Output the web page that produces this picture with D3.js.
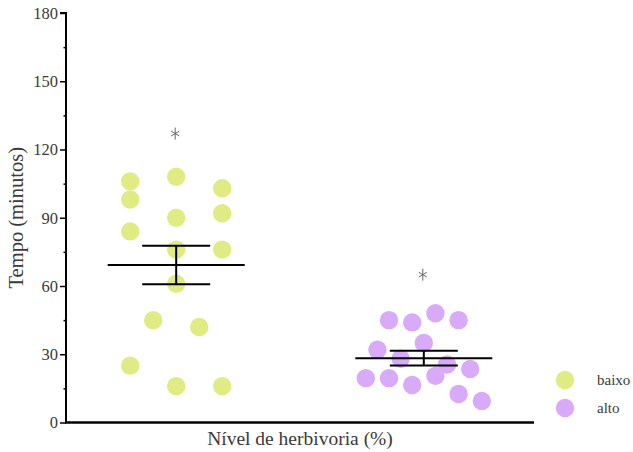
<!DOCTYPE html>
<html>
<head>
<meta charset="utf-8">
<script src="https://cdn.jsdelivr.net/npm/d3@7"></script>
<style>
  html, body { margin: 0; padding: 0; background: #fff; }
  svg { display: block; }
  text { font-family: "Liberation Serif", "DejaVu Serif", serif; }
</style>
</head>
<body>
<svg id="chart" width="633" height="452"></svg>
<script>
// Tempo (minutos) per level of herbivory
const groups = ["baixo", "alto"];
const baixoValues = [106, 108, 103, 98, 90, 92, 84, 76, 76, 61, 45, 42, 25, 16, 16];
const altoValues = [45, 44, 48, 45, 32, 28, 35, 25.5, 23.5, 19.5, 19.5, 16.5, 20.5, 12.5, 9.5];
const seriesValues = [baixoValues, altoValues];
const significanceMarks = [127, 65];
const yTicks = [0, 30, 60, 90, 120, 150, 180];
const yMinorTicks = [15, 45, 75, 105, 135, 165];
const colors = ["#e0eb83", "#d8aaf8"];

const svg = d3.select("#chart");
const margin = { left: 66, right: 99, top: 13, bottom: 30 };
const W = 633, H = 452;

const y = d3.scaleLinear().domain([0, 180]).range([H - margin.bottom + 0.5, margin.top]);
const x = d3.scalePoint().domain(groups).range([margin.left, W - margin.right]).padding(0.445);

const r = 9.2;

// Arrange each group's points into rows of similar values, spread sideways
function rowLayout(values) {
  const idx = values.map((v, i) => i).sort((a, b) => values[a] - values[b] || a - b);
  const rows = [];
  let cur = null;
  idx.forEach(i => {
    if (!cur || values[i] - values[cur[0]] > 12) { cur = [i]; rows.push(cur); }
    else cur.push(i);
  });
  const maxRow = d3.max(rows, rw => rw.length);
  const spacing = maxRow > 1 ? Math.min(46, 116 / (maxRow - 1)) : 0;
  const offsets = new Array(values.length);
  rows.forEach(rw => {
    rw.sort((a, b) => a - b);
    rw.forEach((i, k) => { offsets[i] = (k - (rw.length - 1) / 2) * spacing; });
  });
  return offsets;
}

// Points
groups.forEach((g, gi) => {
  const vals = seriesValues[gi];
  const off = rowLayout(vals);
  svg.append("g").selectAll("circle").data(vals).join("circle")
    .attr("cx", (d, i) => x(g) + off[i])
    .attr("cy", d => y(d))
    .attr("r", r)
    .attr("fill", colors[gi]);
});

// Mean ± SEM
groups.forEach((g, gi) => {
  const vals = seriesValues[gi];
  const m = d3.mean(vals);
  const sem = d3.deviation(vals) / Math.sqrt(vals.length);
  const cx = x(g);
  const gg = svg.append("g").attr("stroke", "#000").attr("stroke-width", 2).attr("fill", "none");
  gg.append("line").attr("x1", cx - 68.5).attr("x2", cx + 68.5).attr("y1", y(m)).attr("y2", y(m));
  gg.append("line").attr("x1", cx).attr("x2", cx).attr("y1", y(m - sem)).attr("y2", y(m + sem));
  gg.append("line").attr("x1", cx - 34).attr("x2", cx + 34).attr("y1", y(m + sem)).attr("y2", y(m + sem));
  gg.append("line").attr("x1", cx - 34).attr("x2", cx + 34).attr("y1", y(m - sem)).attr("y2", y(m - sem));
});

// Significance asterisks
groups.forEach((g, gi) => {
  const cx = x(g) - 1, cy = y(significanceMarks[gi]);
  const p = d3.path();
  p.moveTo(cx, cy - 6); p.lineTo(cx, cy + 6);
  p.moveTo(cx - 4, cy - 2.4); p.lineTo(cx + 4, cy + 2.4);
  p.moveTo(cx - 4, cy + 2.4); p.lineTo(cx + 4, cy - 2.4);
  svg.append("path").attr("d", p.toString()).attr("stroke", "#666").attr("stroke-width", 1).attr("fill", "none");
});

// Y axis
const yAxis = svg.append("g").attr("transform", `translate(${margin.left},0)`)
  .call(d3.axisLeft(y).tickValues(yTicks).tickSize(6).tickPadding(2).tickFormat(d3.format("d")));
yAxis.select(".domain").attr("stroke-width", 2).attr("d", `M-6,${y(180)}H0V${y(0)}`);
yAxis.selectAll(".tick line").attr("stroke-width", 1.5);
yAxis.selectAll(".tick text").attr("font-size", 16.5).attr("fill", "#3a3a3a");
svg.append("g").attr("transform", `translate(${margin.left},0)`)
  .call(d3.axisLeft(y).tickValues(yMinorTicks).tickSize(2.5).tickFormat(""))
  .call(g => g.select(".domain").remove())
  .selectAll(".tick line").attr("stroke-width", 1.5);

// X axis line
svg.append("line").attr("x1", margin.left - 1).attr("x2", W - margin.right)
  .attr("y1", y(0)).attr("y2", y(0)).attr("stroke", "#000").attr("stroke-width", 2.5);

// Axis titles
svg.append("text").attr("transform", `translate(23,${(y(0) + y(180)) / 2}) rotate(-90)`)
  .attr("text-anchor", "middle").attr("font-size", 20.5).attr("fill", "#3a3a3a")
  .text("Tempo (minutos)");
svg.append("text").attr("x", (margin.left + W - margin.right) / 2).attr("y", 445)
  .attr("text-anchor", "middle").attr("font-size", 19.5).attr("fill", "#3a3a3a")
  .text("Nível de herbivoria (%)");

// Legend
const legend = svg.append("g");
groups.forEach((g, gi) => {
  const ly = 380 + gi * 28;
  legend.append("circle").attr("cx", 565).attr("cy", ly).attr("r", r).attr("fill", colors[gi]);
  legend.append("text").attr("x", 597).attr("y", ly).attr("dy", "0.32em")
    .attr("font-size", 15).attr("fill", "#3a3a3a").text(g);
});
</script>
</body>
</html>
